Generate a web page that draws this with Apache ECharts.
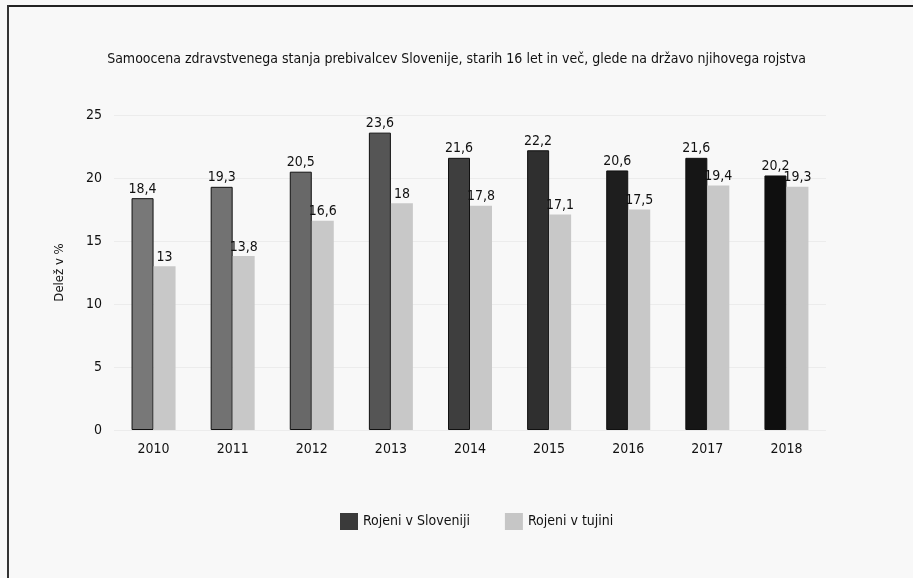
<!DOCTYPE html>
<html>
<head>
<meta charset="utf-8">
<script src="https://cdn.jsdelivr.net/npm/echarts@6/dist/echarts.min.js"></script>
<style>
  html, body { margin: 0; padding: 0; background: #f8f8f8; }
  #chart { width: 913px; height: 578px; }
  .lineTop { position: absolute; left: 7px; top: 5px; width: 906px; height: 2px; background: #222; }
  .lineLeft { position: absolute; left: 7px; top: 5px; width: 2px; height: 573px; background: #333; }
</style>
</head>
<body>
<div class="lineTop"></div>
<div class="lineLeft"></div>
<div id="chart"></div>
<script>
// podatki
const years = ['2010', '2011', '2012', '2013', '2014', '2015', '2016', '2017', '2018'];
const rojeniSlo = [18.4, 19.3, 20.5, 23.6, 21.6, 22.2, 20.6, 21.6, 20.2];
const rojeniTuj = [13, 13.8, 16.6, 18, 17.8, 17.1, 17.5, 19.4, 19.3];
const yTicks = [0, 5, 10, 15, 20, 25];

// barve temnih stolpcev (od sive do črne)
const sloColors = ['#787878', '#727272', '#686868', '#555555', '#3e3e3e', '#2f2f2f', '#1e1e1e', '#161616', '#0f0f0f'];

const font = '"Liberation Sans Narrow", "DejaVu Sans Condensed", sans-serif';

function fmt(v) {
    return String(v).replace('.', ',');
}

function init() {
    const chart = echarts.init(document.getElementById('chart'));

    const barLabel = {
        show: true,
        position: 'top',
        distance: 2,
        fontFamily: font,
        fontSize: 14,
        color: '#111',
        formatter: p => fmt(p.value)
    };

    chart.setOption({
        backgroundColor: 'transparent',
        textStyle: { fontFamily: font },
        title: {
            text: 'Samoocena zdravstvenega stanja prebivalcev Slovenije, starih 16 let in več, glede na državo njihovega rojstva',
            left: 'center',
            top: 47,
            textStyle: { fontFamily: font, fontSize: 14, fontWeight: 'normal', color: '#111' }
        },
        legend: {
            bottom: 43,
            left: 335,
            itemWidth: 18,
            itemHeight: 17,
            itemGap: 35,
            icon: 'rect',
            textStyle: { fontFamily: font, fontSize: 14, color: '#111' },
            data: [
                { name: 'Rojeni v Sloveniji', itemStyle: { color: '#3a3a3a' } },
                { name: 'Rojeni v tujini', itemStyle: { color: '#c6c6c6' } }
            ]
        },
        grid: { left: 114, right: 87, top: 115, bottom: 148 },
        xAxis: {
            type: 'category',
            data: years,
            axisLine: { show: false },
            axisTick: { show: false },
            axisLabel: { fontFamily: font, fontSize: 14, color: '#111', margin: 12 }
        },
        yAxis: {
            type: 'value',
            min: yTicks[0],
            max: yTicks[yTicks.length - 1],
            interval: 5,
            name: 'Delež v %',
            nameLocation: 'middle',
            nameGap: 48,
            nameTextStyle: { fontFamily: font, fontSize: 13, color: '#111' },
            axisLine: { show: false },
            axisTick: { show: false },
            axisLabel: { fontFamily: font, fontSize: 14, color: '#111', margin: 12 },
            splitLine: { lineStyle: { color: '#ececec' } }
        },
        series: [
            {
                name: 'Rojeni v Sloveniji',
                type: 'bar',
                barWidth: 22,
                barGap: '0%',
                data: rojeniSlo.map((v, i) => ({ value: v, itemStyle: { color: sloColors[i], borderColor: '#111', borderWidth: 1 } })),
                label: barLabel
            },
            {
                name: 'Rojeni v tujini',
                type: 'bar',
                barWidth: 22,
                barGap: '0%',
                data: rojeniTuj,
                itemStyle: { color: '#c8c8c8' },
                label: barLabel
            }
        ]
    });
}

window.addEventListener('DOMContentLoaded', init);
</script>
</body>
</html>
